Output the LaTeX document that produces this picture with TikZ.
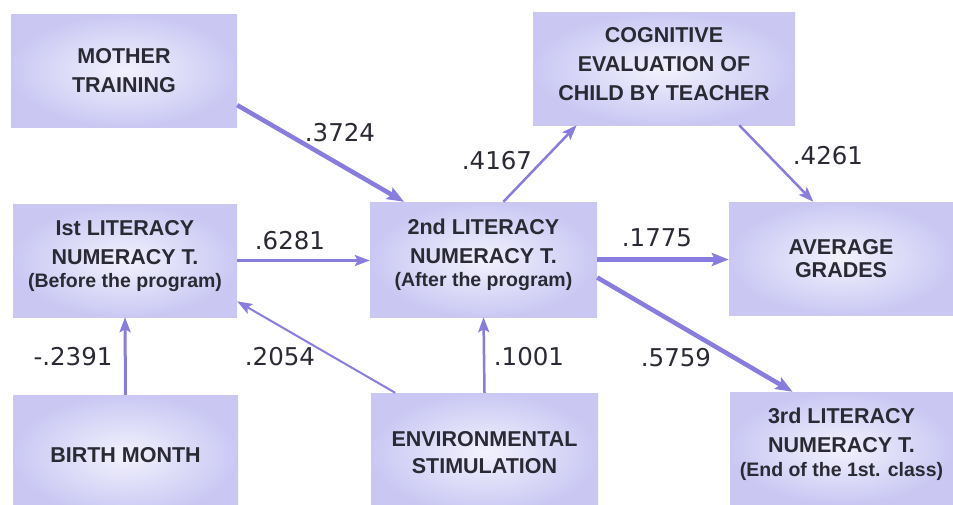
\documentclass[tikz,border=0pt]{standalone}
\usepackage{fontspec}
\setmainfont{Liberation Sans}
\newfontfamily\numfont{DejaVu Sans}
\usetikzlibrary{arrows.meta}
\definecolor{boxout}{RGB}{202,200,243}
\definecolor{boxin}{RGB}{242,242,253}
\definecolor{linkc}{RGB}{136,124,222}
\definecolor{inkc}{RGB}{42,42,52}
\newcommand\progline[1]{{\fontsize{19.5}{23}\selectfont #1}}

\begin{document}
\begin{tikzpicture}[x=1pt, y=-1pt,
  var/.style={shade, inner color=boxin, outer color=boxout, align=center, text=inkc, inner sep=0pt,
    minimum width=225pt, minimum height=113pt, font=\fontsize{21.5}{29}\selectfont\bfseries},
  coef/.style={inner sep=0pt, text=inkc, font=\numfont\fontsize{24.5}{28}\selectfont},
  link/.style={draw=linkc, line width=2.5pt, -{Stealth[length=15pt,width=11pt,inset=3pt]}},
  strong/.style={link, line width=4.5pt, -{Stealth[length=17pt,width=13pt,inset=3pt]}}]
  \clip (0,0) rectangle (953,504);
  \fill[white] (0,0) rectangle (953,504);
  % variables
  \node[var, minimum width=226pt] (mother) at (124,70.5) {MOTHER\\TRAINING};
  \node[var, minimum width=224pt, text depth=14pt] (lit1) at (125,260.5) {Ist LITERACY\\NUMERACY T.\\[-6pt]\progline{(Before the program)}};
  \node[var, minimum height=120pt] (birth) at (125.5,455) {BIRTH MONTH};
  \node[var, minimum width=227pt, minimum height=115pt, text depth=14pt] (lit2) at (483.5,259.5) {2nd LITERACY\\NUMERACY T.\\[-6pt]\progline{(After the program)}};
  \node[var, minimum width=227pt, minimum height=120pt] (env) at (484.5,453) {ENVIRONMENTAL\\[-2pt]STIMULATION};
  \node[var, minimum width=262pt, text depth=9pt] (cog) at (664,68.5) {COGNITIVE\\EVALUATION OF\\CHILD BY TEACHER};
  \node[var, minimum width=224pt] (avg) at (841,258.5) {AVERAGE\\[-6pt]GRADES};
  \node[var, minimum width=223pt, minimum height=112pt, text depth=12pt] (lit3) at (841.5,448) {3rd LITERACY\\NUMERACY T.\\[-5pt]\progline{(End of the 1st. class)}};
  % paths
  \draw[strong] (mother.-17) -- (lit2.144);
  \draw[link] (lit1.east) -- (lit1.east -| lit2.west);
  \draw[link, line width=2pt] (env.146) -- (lit1.-20);
  \draw[link, line width=3pt] (birth.north) -- (lit1.south);
  \draw[link] (env.north) -- (lit2.south);
  \draw[link] (lit2.71) -- (cog.-147);
  \draw[link] (cog.-37) -- (avg.116);
  \draw[strong] (lit2.east) -- (lit2.east -| avg.west);
  \draw[strong] (lit2.-9) -- (lit3.131);
  % coefficients
  \node[coef] (c3724) at (340,133) {.3724};
  \node[coef] (c6281) at (290,241) {.6281};
  \node[coef] (c4167) at (497,161) {.4167};
  \node[coef] (c4261) at (828,156) {.4261};
  \node[coef] (c1775) at (657,238) {.1775};
  \node[coef] (c5759) at (676,358) {.5759};
  \node[coef] (c2054) at (280,357) {.2054};
  \node[coef] (c1001) at (529,357) {.1001};
  \node[coef] (c2391) at (73,357) {-.2391};
\end{tikzpicture}
\end{document}
